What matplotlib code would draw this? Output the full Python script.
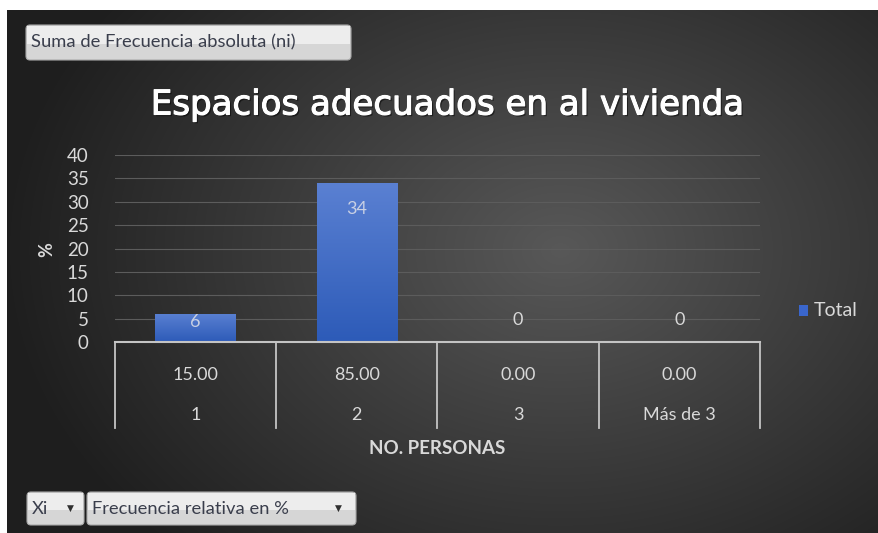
import numpy as np
import matplotlib
matplotlib.use("Agg")
import matplotlib.pyplot as plt
from matplotlib.patches import FancyBboxPatch, Rectangle
import matplotlib.transforms as mtransforms
import matplotlib.patheffects as pe

# ---- data ----
categories = ["1", "2", "3", "Más de 3"]
abs_freq = [6, 34, 0, 0]
rel_freq = [15.00, 85.00, 0.00, 0.00]
yticks = [0, 5, 10, 15, 20, 25, 30, 35, 40]
title = "Espacios adecuados en al vivienda"
xlabel = "NO. PERSONAS"
ylabel = "%"
legend_label = "Total"

W, H = 879, 533
fig = plt.figure(figsize=(W / 100, H / 100), dpi=100)
fig.patch.set_facecolor("white")

# background axes in pixel coords
bg = fig.add_axes([0, 0, 1, 1])
bg.set_xlim(0, W)
bg.set_ylim(H, 0)
bg.axis("off")
x0, y0 = 7, 10
yy, xx = np.mgrid[y0:H, x0:W]
cx, cy = 560, 250
r = np.sqrt(((xx - cx) / 560.0) ** 2 + ((yy - cy) / 420.0) ** 2)
r = np.clip(r, 0, 1)
c_in = np.array([0x58, 0x58, 0x58]) / 255
c_out = np.array([0x1e, 0x1e, 0x1e]) / 255
img = c_in[None, None, :] * (1 - r[..., None]) + c_out[None, None, :] * r[..., None]
bg.imshow(img, extent=(x0, W, H, y0), aspect="auto", zorder=0)

font = "Lato"
txtc = "#d9d9d9"

# title
bg.text(447, 105, title, color="white", fontsize=24.5, fontweight="normal",
        family="DejaVu Sans", ha="center", va="center",
        path_effects=[pe.withSimplePatchShadow(offset=(1.2, -1.2), shadow_rgbFace="black", alpha=0.5),
                      pe.withStroke(linewidth=0.8, foreground="white")])

# dropdown buttons
def button(x, y, w, h, label, arrow_x=None):
    p = FancyBboxPatch((x, y), w, h, boxstyle="round,pad=0,rounding_size=4",
                       facecolor="#d6d6d6", edgecolor="#a8a8a8", lw=0.8, zorder=2)
    bg.add_patch(p)
    bg.add_patch(Rectangle((x + 1, y + 1), w - 2, h * 0.5, facecolor="#ededed",
                           edgecolor="none", zorder=2))
    bg.text(x + 5, y + h / 2, label, color="#3a3e4c", fontsize=13.2, family=font,
            ha="left", va="center", zorder=3)
    if arrow_x is not None:
        bg.text(arrow_x, y + h / 2, "▼", color="#303030", fontsize=6.5,
                family="DejaVu Sans", ha="center", va="center", zorder=3)

button(26, 25, 325, 35, "Suma de Frecuencia absoluta (ni)")
button(27, 492, 57, 33, "Xi", arrow_x=70)
button(87, 492, 269, 33, "Frecuencia relativa en %", arrow_x=338)

# main axes
L, R, T, B = 115, 760, 155, 342
ax = fig.add_axes([L / W, (H - B) / H, (R - L) / W, (B - T) / H])
ax.patch.set_alpha(0)
x = np.arange(len(categories))
ax.set_ylim(0, 40)
ax.set_yticks(yticks)
ax.set_yticklabels([str(t) for t in yticks], color=txtc, fontsize=13.5, family=font)
ax.tick_params(axis="y", length=0, pad=19)
ax.set_xticks([])
for s in ax.spines.values():
    s.set_visible(False)
ax.grid(axis="y", color="#5c5c5c", lw=0.8)
ax.set_axisbelow(True)

bars = ax.bar(x, abs_freq, width=0.5, color="#3561c2", zorder=2, label=legend_label)
grad = np.linspace(0, 1, 100)[:, None]
cmap = matplotlib.colors.LinearSegmentedColormap.from_list("g", ["#2d5bb8", "#5a80d2"])
for b in bars:
    h = b.get_height()
    if h <= 0:
        continue
    im = ax.imshow(grad, cmap=cmap, extent=(b.get_x(), b.get_x() + b.get_width(), 0, h),
                   aspect="auto", zorder=3, origin="lower")
    im.set_clip_path(b)
ax.set_aspect("auto")
ax.set_xlim(-0.5, len(categories) - 0.5)
ax.set_ylim(0, 40)

# data labels
px_per_unit = (B - T) / 40.0
for xi, v in zip(x, abs_freq):
    if v > 0:
        hpx = v * px_per_unit
        dy = -26 if hpx > 45 else -hpx / 2 + 6
        ax.annotate(str(v), (xi, v), xytext=(0, dy), textcoords="offset pixels",
                    ha="center", va="center", color="#c8d0e4", fontsize=13, family=font, zorder=4)
    else:
        ax.annotate(str(v), (xi, v), xytext=(0, 22), textcoords="offset pixels",
                    ha="center", va="center", color=txtc, fontsize=13, family=font, zorder=4)

# category table below axis
trans = mtransforms.blended_transform_factory(ax.transData, ax.transAxes)
ph = B - T
line_c = "#c4c4c4"
ax.plot([-0.5, len(categories) - 0.5], [0, 0], transform=trans, color=line_c, lw=1.5,
        clip_on=False, zorder=5)
for bx in np.arange(len(categories) + 1) - 0.5:
    ax.plot([bx, bx], [0, -(428 - B) / ph], transform=trans, color=line_c, lw=1.3,
            clip_on=False, zorder=5)
for xi, rv, c in zip(x, rel_freq, categories):
    ax.text(xi, -(375 - B) / ph, f"{rv:.2f}", transform=trans, ha="center", va="center",
            color=txtc, fontsize=13, family=font)
    ax.text(xi, -(415 - B) / ph, c, transform=trans, ha="center", va="center",
            color=txtc, fontsize=13, family=font)
ax.text(1.5, -(448 - B) / ph, xlabel, transform=trans, ha="center", va="center",
        color=txtc, fontsize=13.5, family=font, fontweight="bold")

# y label
bg.text(47, 250, ylabel, rotation=90, color=txtc, fontsize=13, family=font,
        fontweight="bold", ha="center", va="center")

# legend
bg.add_patch(Rectangle((799, 305), 9, 11, facecolor="#3a66cc", edgecolor="none"))
bg.text(814, 311, legend_label, color=txtc, fontsize=14, family=font, ha="left", va="center")

fig.savefig("out.png", dpi=100)
